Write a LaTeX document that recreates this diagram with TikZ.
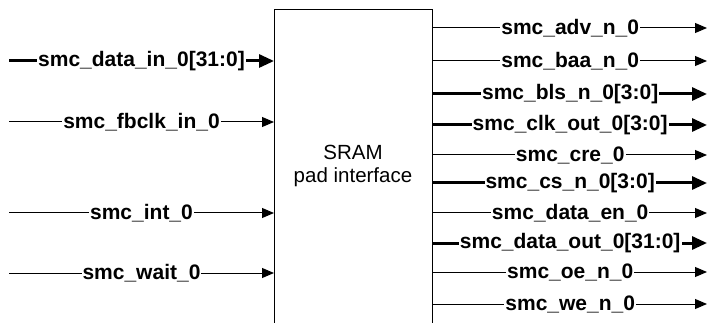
\documentclass[tikz,border=0pt]{standalone}
\usepackage{fontspec}
\setmainfont{Liberation Sans}
\usetikzlibrary{arrows.meta}

\tikzset{
  thinsig/.style={line width=1pt, -{Triangle[length=12pt,width=10pt]}},
  bussig/.style={line width=3pt, -{Triangle[length=15pt,width=13pt]}},
  lbl/.style={fill=white, inner sep=1pt, font=\fontsize{21}{24}\selectfont\bfseries},
  blockbox/.style={draw, line width=1.4pt, minimum width=158pt, minimum height=330pt,
    anchor=north west}
}

\begin{document}
\begin{tikzpicture}[x=1pt,y=1pt]
  \useasboundingbox (0,0) rectangle (712,-323);
  \clip (0,0) rectangle (712,-323);

  % the interface block (runs off the lower edge)
  \node[blockbox] (blk) at (274,-9) {};
  \node[align=center, font=\fontsize{20.5}{23.5}\selectfont] (blktxt) at (353,-166) {SRAM\\pad interface};

  % input side
  \foreach \nm/\yy in {i1/61, i2/122, i3/213, i4/273}{
    \coordinate (\nm) at (9,-\yy);
    \coordinate (\nm e) at (blk.west |- \nm);
  }
  \draw[bussig]  (i1) -- node[lbl]{smc\_data\_in\_0[31:0]} (i1e);
  \draw[thinsig] (i2) -- node[lbl]{smc\_fbclk\_in\_0} (i2e);
  \draw[thinsig] (i3) -- node[lbl]{smc\_int\_0} (i3e);
  \draw[thinsig] (i4) -- node[lbl]{smc\_wait\_0} (i4e);

  % output side
  \foreach \nm/\yy in {o1/28, o2/61, o3/94, o4/125, o5/155, o6/183, o7/213, o8/243, o9/272, o10/304}{
    \coordinate (\nm) at (blk.east |- 0,-\yy);
    \coordinate (\nm e) at (707,-\yy);
  }
  \draw[thinsig] (o1) -- node[lbl]{smc\_adv\_n\_0} (o1e);
  \draw[thinsig] (o2) -- node[lbl]{smc\_baa\_n\_0} (o2e);
  \draw[bussig]  (o3) -- node[lbl]{smc\_bls\_n\_0[3:0]} (o3e);
  \draw[bussig]  (o4) -- node[lbl]{smc\_clk\_out\_0[3:0]} (o4e);
  \draw[thinsig] (o5) -- node[lbl]{smc\_cre\_0} (o5e);
  \draw[bussig]  (o6) -- node[lbl]{smc\_cs\_n\_0[3:0]} (o6e);
  \draw[thinsig] (o7) -- node[lbl]{smc\_data\_en\_0} (o7e);
  \draw[bussig]  (o8) -- node[lbl]{smc\_data\_out\_0[31:0]} (o8e);
  \draw[thinsig] (o9) -- node[lbl]{smc\_oe\_n\_0} (o9e);
  \draw[thinsig] (o10) -- node[lbl]{smc\_we\_n\_0} (o10e);
\end{tikzpicture}
\end{document}
